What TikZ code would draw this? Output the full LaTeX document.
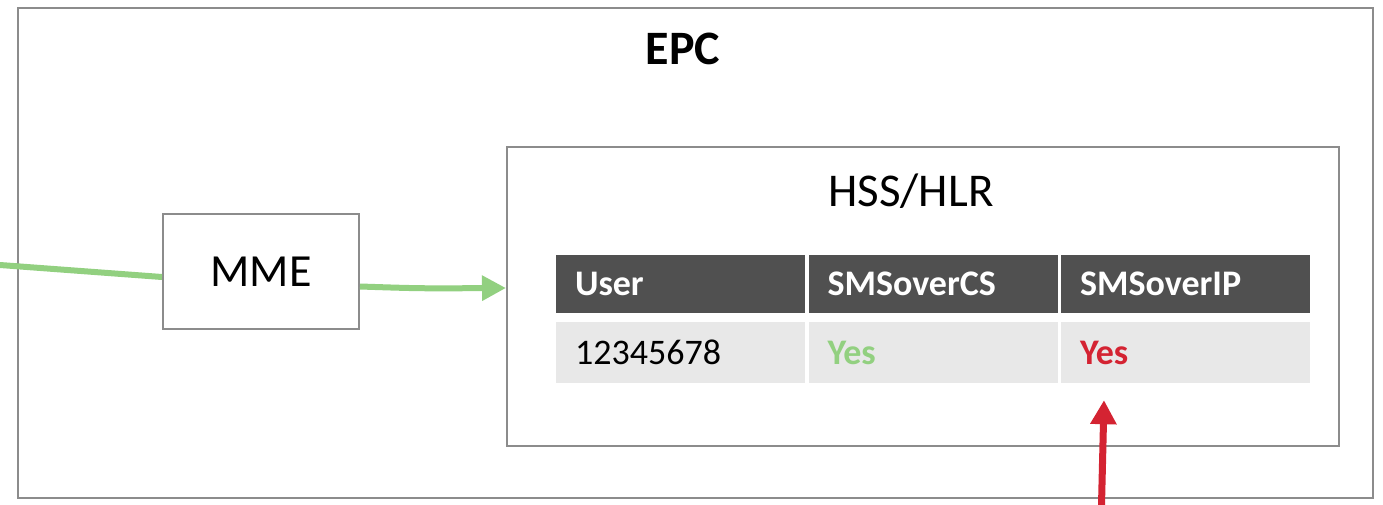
\documentclass[tikz,border=0pt]{standalone}
\usepackage{fontspec}
\setmainfont{Carlito}
\usetikzlibrary{arrows.meta}
\definecolor{boxgray}{RGB}{140,140,140}
\definecolor{hdrgray}{RGB}{80,80,80}
\definecolor{rowgray}{RGB}{232,232,232}
\definecolor{lgreen}{RGB}{146,208,128}
\definecolor{sred}{RGB}{212,35,50}
\tikzset{
  frame/.style={draw=boxgray, line width=2pt, fill=none, inner sep=0pt},
  hdr/.style={fill=hdrgray, text=white, font=\fontsize{36}{40}\selectfont\bfseries, minimum height=58pt, text width=211pt, align=left, inner xsep=19pt, inner ysep=0pt},
  cell/.style={fill=rowgray, font=\fontsize{36}{40}\selectfont, minimum height=61pt, text width=211pt, align=left, inner xsep=19pt, inner ysep=0pt},
  greenarrow/.style={draw=lgreen, line width=6pt, -{Triangle[length=24pt,width=24pt]}},
  redarrow/.style={draw=sred, line width=7pt, -{Triangle[length=24pt,width=25pt]}},
}
\begin{document}
\begin{tikzpicture}[x=1pt,y=-1pt]
\useasboundingbox (0,0) rectangle (1383,505);
\fill[white] (0,0) rectangle (1383,505);
\node[frame, minimum width=1355pt, minimum height=490pt] (epc) at (695.5,253) {};
\node[font=\fontsize{48}{52}\selectfont\bfseries, anchor=base] (epclabel) at (683,65) {EPC};
\node[frame, minimum width=832pt, minimum height=299pt] (hss) at (923,296.5) {};
\node[font=\fontsize{47}{52}\selectfont, anchor=base] (hsslabel) at (911,206) {HSS/HLR};
\node[frame, minimum width=196pt, minimum height=115pt, font=\fontsize{46}{50}\selectfont] (mme) at (261,271.5) {MME};
% table
\node[hdr] (h1) at (680.5,284) {User};
\node[hdr] (h2) at (933,284) {SMSoverCS};
\node[hdr] (h3) at (1185.5,284) {SMSoverIP};
\node[cell] (c1) at (680.5,352.5) {12345678};
\node[cell, text=lgreen, font=\fontsize{36}{40}\selectfont\bfseries] (c2) at (933,352.5) {Yes};
\node[cell, text=sred, font=\fontsize{36}{40}\selectfont\bfseries] (c3) at (1185.5,352.5) {Yes};
% connectors
\coordinate (gin) at (0,265);
\coordinate (rin) at (1101.5,505);
\draw[draw=lgreen, line width=6pt] (gin) -- ([yshift=-5.5pt]mme.west);
\draw[greenarrow] ([yshift=-15pt]mme.east) .. controls (420,288.5) .. ([yshift=8.5pt]hss.west);
\draw[redarrow] (rin) -- ([xshift=-81.5pt,yshift=-17pt]c3.south);
\end{tikzpicture}
\end{document}
